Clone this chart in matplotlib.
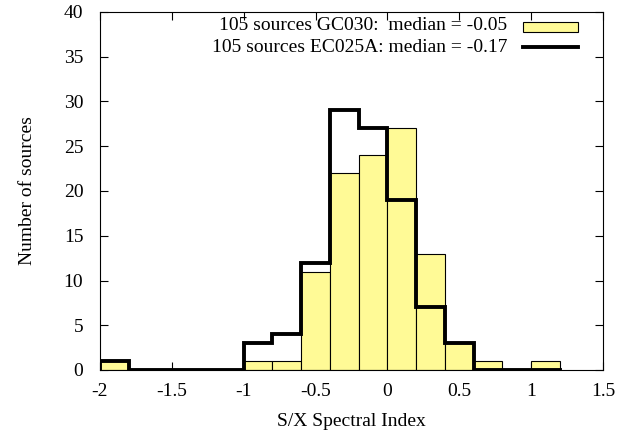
import matplotlib
matplotlib.use("Agg")
import matplotlib.pyplot as plt
from matplotlib.patches import Rectangle
from matplotlib.lines import Line2D
import numpy as np

plt.rcParams['font.family'] = ['Liberation Serif', 'DejaVu Serif']
plt.rcParams['font.size'] = 14

# histogram bins (left edges), width 0.2
bin_left = [-2.0, -1.8, -1.6, -1.4, -1.2, -1.0, -0.8, -0.6,
            -0.4, -0.2, 0.0, 0.2, 0.4, 0.6, 0.8, 1.0]
bin_width = 0.2
gc030 = [1, 0, 0, 0, 0, 1, 1, 11, 22, 24, 27, 13, 3, 1, 0, 1]
ec025a = [1, 0, 0, 0, 0, 3, 4, 12, 29, 27, 19, 7, 3, 0, 0, 0]

label_gc = "105 sources GC030:  median = -0.05"
label_ec = "105 sources EC025A: median = -0.17"

yellow = '#fffa96'
H = 443

fig = plt.figure(figsize=(6.37, 4.43), dpi=100)
ax = fig.add_axes([100 / 637, 1 - 370 / H, 503 / 637, 358 / H])

# yellow bars
ax.bar(bin_left, gc030, width=bin_width, align='edge',
       color=yellow, edgecolor='black', linewidth=0.8, zorder=2)

# black step outline
edges = list(bin_left) + [bin_left[-1] + bin_width]
xs = np.repeat(edges, 2)[1:-1]
ys = np.repeat(ec025a, 2)
ax.plot(np.concatenate([[edges[0]], xs]), np.concatenate([[0], ys]),
        color='black', linewidth=2.8, solid_joinstyle='miter', zorder=3)

ax.set_xlim(-2, 1.5)
ax.set_ylim(0, 40)
ax.set_xticks([-2, -1.5, -1, -0.5, 0, 0.5, 1, 1.5])
ax.set_xticklabels(['-2', '-1.5', '-1', '-0.5', '0', '0.5', '1', '1.5'])
ax.set_yticks(range(0, 41, 5))
ax.tick_params(direction='in', top=True, right=True, length=6, width=0.8)
ax.tick_params(axis='x', pad=9)
ax.tick_params(axis='y', pad=12)
for s in ax.spines.values():
    s.set_linewidth(0.8)

ax.set_xlabel('S/X Spectral Index', labelpad=10)
ax.set_ylabel('Number of sources', labelpad=20)

# gnuplot-style key, top right
ax.text(507, H - 26, label_gc, transform=None, ha='right', va='center')
ax.text(507, H - 47, label_ec, transform=None, ha='right', va='center')
fig.patches.append(Rectangle((523, H - 32), 55, 10, transform=None,
                             facecolor=yellow, edgecolor='black', linewidth=0.8))
fig.lines.append(Line2D([523, 578], [H - 47, H - 47], transform=None,
                        color='black', linewidth=2.8))

fig.savefig('out.png', dpi=100)
